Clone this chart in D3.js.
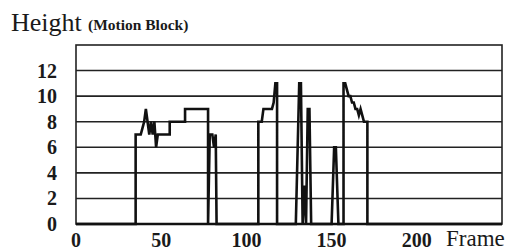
<!DOCTYPE html>
<html>
<head>
<meta charset="utf-8">
<script src="https://cdn.jsdelivr.net/npm/d3@7"></script>
<style>
  body { margin: 0; background: #fff; }
  text { font-family: "Liberation Serif", "DejaVu Serif", serif; fill: #1a1a1a; }
</style>
</head>
<body>
<svg id="chart" width="517" height="251"></svg>
<script>
// frame numbers and block heights
var frames  = [0, 35, 35, 38, 39, 40, 41, 42, 43, 44, 45, 46, 47, 48, 49, 55, 55, 64, 64, 77, 77.5, 77.5, 78.5, 80, 81, 82, 82.5,
               107, 107, 109, 110, 115, 116, 117, 118, 118, 129, 131, 132, 133, 134, 135, 136, 137, 138,
               150, 151.5, 152.5, 154, 157, 157, 158, 160, 161, 162, 163, 164, 165, 166, 167, 168, 169, 171, 171, 250]
var heights = [0, 0, 7, 7, 7.5, 8, 9, 8, 7, 8, 7, 8, 6, 7, 7, 7, 8, 8, 9, 9, 9, 0, 7, 7, 6, 7, 0,
               0, 8, 8, 9, 9, 9.5, 11, 11, 0, 0, 11, 11, 0, 3, 0, 9, 9, 0,
               0, 6, 6, 0, 0, 11, 11, 10, 10, 9.5, 9.5, 9, 9, 8.5, 9, 8.5, 8, 8, 0, 0]

var yTicks = [0, 2, 4, 6, 8, 10, 12]
var xTicks = [0, 50, 100, 150, 200]

var pts = frames.map(function(f, i){ return [f, heights[i]] })

var svg = d3.select("#chart")

var x = d3.scaleLinear().domain([0, 250]).range([76, 502])
var y = d3.scaleLinear().domain([0, 14]).range([224, 45])

// grid lines
svg.selectAll("grid")
  .data(yTicks.filter(d => d > 0))
  .enter()
  .append("line")
    .attr("x1", x(0))
    .attr("x2", x(250))
    .attr("y1", d => y(d))
    .attr("y2", d => y(d))
    .style("stroke", "#222")
    .style("stroke-width", 1.6)

// frame round the plot
svg.append("rect")
  .attr("x", x(0))
  .attr("y", y(14))
  .attr("width", x(250) - x(0))
  .attr("height", y(0) - y(14))
  .style("fill", "none")
  .style("stroke", "#222")
  .style("stroke-width", 1.6)

// the trace
var line = d3.line().x(d => x(d[0])).y(d => y(d[1]))
svg.append("path")
  .datum(pts)
  .attr("d", line)
  .style("fill", "none")
  .style("stroke", "#111")
  .style("stroke-width", 2.6)
  .style("stroke-linejoin", "miter")

// baseline
svg.append("line")
  .attr("x1", x(0)).attr("x2", x(250))
  .attr("y1", y(0)).attr("y2", y(0))
  .style("stroke", "#111")
  .style("stroke-width", 2.6)

// tick labels
svg.selectAll("ylab")
  .data(yTicks)
  .enter()
  .append("text")
    .attr("x", 57)
    .attr("y", d => y(d) + 7)
    .attr("text-anchor", "end")
    .style("font-size", "20px")
    .style("font-weight", "bold")
    .text(d => d)

svg.selectAll("xlab")
  .data(xTicks)
  .enter()
  .append("text")
    .attr("x", d => x(d))
    .attr("y", 247)
    .attr("text-anchor", "middle")
    .style("font-size", "20px")
    .style("font-weight", "bold")
    .text(d => d)

// axis titles
svg.append("text")
  .attr("x", 11).attr("y", 31)
  .style("font-size", "26px")
  .text("Height")

svg.append("text")
  .attr("x", 88).attr("y", 30)
  .style("font-size", "15.5px")
  .style("font-weight", "bold")
  .text("(Motion Block)")

svg.append("text")
  .attr("x", 446).attr("y", 246)
  .style("font-size", "23px")
  .text("Frame")
</script>
</body>
</html>
